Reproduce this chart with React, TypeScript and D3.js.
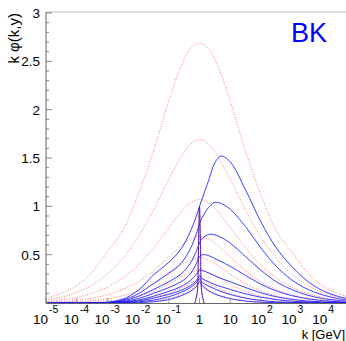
import React from 'react';
import * as d3 from 'd3';

const logK = [-5, -4.5, -4, -3.5, -3, -2.5, -2, -1.5, -1, -0.6, -0.3, -0.1, 0, 0.1, 0.3, 0.5, 0.7, 1, 1.5, 2, 2.5, 3, 3.5, 4, 4.5, 5];

const red8 = [0.05, 0.10, 0.18, 0.32, 0.53, 0.75, 1.12, 1.57, 2.09, 2.45, 2.63, 2.68, 2.69, 2.68, 2.63, 2.52, 2.37, 2.09, 1.57, 1.12, 0.75, 0.53, 0.32, 0.18, 0.10, 0.05];
const red7 = [0.032, 0.06, 0.11, 0.185, 0.30, 0.46, 0.68, 0.96, 1.28, 1.515, 1.64, 1.685, 1.69, 1.685, 1.64, 1.565, 1.46, 1.28, 0.96, 0.68, 0.46, 0.30, 0.185, 0.11, 0.06, 0.032];
const red6 = [0.017, 0.032, 0.058, 0.1, 0.165, 0.26, 0.39, 0.57, 0.78, 0.945, 1.035, 1.065, 1.07, 1.065, 1.035, 0.98, 0.905, 0.78, 0.57, 0.39, 0.26, 0.165, 0.1, 0.058, 0.032, 0.017];
const red5 = [0.008, 0.015, 0.028, 0.05, 0.085, 0.14, 0.22, 0.335, 0.475, 0.595, 0.66, 0.686, 0.69, 0.686, 0.66, 0.62, 0.565, 0.475, 0.335, 0.22, 0.14, 0.085, 0.05, 0.028, 0.015, 0.008];
const red4 = [0.003, 0.007, 0.013, 0.024, 0.043, 0.075, 0.125, 0.2, 0.3, 0.39, 0.445, 0.465, 0.47, 0.465, 0.445, 0.41, 0.365, 0.3, 0.2, 0.125, 0.075, 0.043, 0.024, 0.013, 0.007, 0.003];
const red3 = [0.001, 0.002, 0.005, 0.011, 0.021, 0.039, 0.07, 0.12, 0.195, 0.268, 0.315, 0.335, 0.34, 0.335, 0.315, 0.285, 0.25, 0.195, 0.12, 0.07, 0.039, 0.021, 0.011, 0.005, 0.002, 0.001];
const red2 = [0, 0, 0.001, 0.003, 0.006, 0.013, 0.028, 0.055, 0.1, 0.155, 0.205, 0.245, 0.27, 0.245, 0.205, 0.17, 0.14, 0.1, 0.055, 0.028, 0.013, 0.006, 0.003, 0.001, 0, 0];
const red1 = [0, 0, 0, 0, 0.001, 0.004, 0.009, 0.022, 0.048, 0.087, 0.135, 0.185, 0.23, 0.185, 0.135, 0.1, 0.075, 0.048, 0.022, 0.009, 0.004, 0.001, 0, 0, 0, 0];

const blue8 = [0, 0, 0.001, 0.003, 0.008, 0.04, 0.13, 0.29, 0.42, 0.56, 0.74, 0.9, 1.0, 1.09, 1.27, 1.45, 1.52, 1.46, 1.17, 0.84, 0.57, 0.38, 0.23, 0.13, 0.07, 0.035];
const blue7 = [0, 0, 0, 0.002, 0.006, 0.03, 0.095, 0.2, 0.31, 0.41, 0.56, 0.72, 0.82, 0.89, 0.99, 1.04, 1.03, 0.97, 0.79, 0.57, 0.38, 0.24, 0.145, 0.085, 0.046, 0.025];
const blue6 = [0, 0, 0, 0.001, 0.004, 0.022, 0.068, 0.14, 0.22, 0.3, 0.41, 0.54, 0.62, 0.67, 0.71, 0.705, 0.68, 0.62, 0.48, 0.34, 0.22, 0.14, 0.083, 0.047, 0.026, 0.014];
const blue5 = [0, 0, 0, 0, 0.003, 0.015, 0.046, 0.1, 0.16, 0.22, 0.3, 0.41, 0.48, 0.5, 0.49, 0.46, 0.43, 0.38, 0.285, 0.195, 0.125, 0.077, 0.045, 0.025, 0.013, 0.007];
const blue4 = [0, 0, 0, 0, 0.002, 0.01, 0.03, 0.07, 0.12, 0.17, 0.23, 0.3, 0.34, 0.335, 0.31, 0.28, 0.255, 0.22, 0.16, 0.105, 0.065, 0.038, 0.021, 0.011, 0.006, 0.003];
const blue3 = [0, 0, 0, 0, 0, 0.006, 0.02, 0.05, 0.09, 0.13, 0.18, 0.23, 0.28, 0.25, 0.22, 0.19, 0.17, 0.14, 0.095, 0.06, 0.035, 0.019, 0.01, 0.005, 0.002, 0.001];
const blue2 = [0, 0, 0, 0, 0, 0.003, 0.012, 0.03, 0.065, 0.11, 0.16, 0.21, 0.25, 0.21, 0.175, 0.145, 0.12, 0.088, 0.05, 0.026, 0.012, 0.006, 0.003, 0.001, 0, 0];
const blue1 = [0, 0, 0, 0, 0, 0, 0.004, 0.013, 0.035, 0.075, 0.12, 0.17, 0.22, 0.175, 0.125, 0.093, 0.07, 0.045, 0.02, 0.008, 0.003, 0.001, 0, 0, 0, 0];

const spikeLogK = [-0.15, -0.07, -0.035, 0, 0.035, 0.07, 0.15];
const spikeValues = [0, 0.12, 0.55, 1.0, 0.55, 0.12, 0];

const redSeries = [red1, red2, red3, red4, red5, red6, red7, red8];
const blueSeries = [blue1, blue2, blue3, blue4, blue5, blue6, blue7, blue8];

const yMajorTicks = [0.5, 1, 1.5, 2, 2.5, 3];
const yTickLabels = ['0.5', '1', '1.5', '2', '2.5', '3'];
const xDecades = [-5, -4, -3, -2, -1, 0, 1, 2, 3, 4];

const W = 346;
const H = 341;
const left = 46;
const right = 353;
const top = 13;
const bottom = 303;

export default function App() {
  const x = d3.scaleLog().domain([1e-5, 1e5]).range([left, right]);
  const y = d3.scaleLinear().domain([0, 3]).range([bottom, top]);

  const mkLine = (ks: number[]) =>
    d3
      .line<number>()
      .x((_, i) => x(Math.pow(10, ks[i])))
      .y((v) => y(v))
      .curve(d3.curveCatmullRom.alpha(0.5));

  const gridLine = mkLine(logK);
  const spikeLine = mkLine(spikeLogK);

  const minorY = d3.range(0, 31).map((i) => i / 10);

  const font = "'Liberation Sans', Arial, Helvetica, sans-serif";
  const labelBase = 323.5;

  return (
    <svg
      width={W}
      height={H}
      style={{ position: 'absolute', left: 0, top: 0, background: '#fff' }}
      fontFamily={font}
    >
      <defs>
        <clipPath id="plot">
          <rect x={left} y={top} width={right - left} height={bottom - top + 0.5} />
        </clipPath>
      </defs>
      <rect x={0} y={0} width={W} height={H} fill="#fff" />

      <g clipPath="url(#plot)">
        {redSeries.map((s, i) => (
          <path
            key={'r' + i}
            d={gridLine(s) || ''}
            fill="none"
            stroke="#ff3030"
            strokeOpacity={0.75}
            strokeWidth={0.9}
            strokeDasharray="1 1.6"
          />
        ))}
        <path
          d={spikeLine(spikeValues) || ''}
          fill="none"
          stroke="#ff3030"
          strokeWidth={0.9}
          strokeDasharray="1 1.6"
        />
        {blueSeries.map((s, i) => (
          <path
            key={'b' + i}
            d={gridLine(s) || ''}
            fill="none"
            stroke="#1a1aff"
            strokeOpacity={0.85}
            strokeWidth={1}
          />
        ))}
        <path d={spikeLine(spikeValues) || ''} fill="none" stroke="#5020c0" strokeWidth={1} />
      </g>

      {/* frame */}
      <line x1={left} x2={right} y1={top - 1} y2={top - 1} stroke="#bbbbbb" strokeWidth={1} />
      <line x1={left} x2={left} y1={top - 1} y2={bottom} stroke="#666" strokeWidth={1} />
      <line x1={left} x2={right} y1={bottom + 0.5} y2={bottom + 0.5} stroke="#666" strokeWidth={1} />

      {/* y ticks */}
      {minorY.map((v, i) => {
        const major = i % 5 === 0;
        return (
          <line
            key={'yt' + i}
            x1={left}
            x2={left + (major ? 6 : 3)}
            y1={y(v)}
            y2={y(v)}
            stroke="#666"
            strokeWidth={0.8}
          />
        );
      })}
      {yMajorTicks.map((v, i) => (
        <text
          key={'yl' + i}
          x={40}
          y={y(v)}
          dy="0.36em"
          textAnchor="end"
          fontSize={13.5}
          fill="#000"
        >
          {yTickLabels[i]}
        </text>
      ))}

      {/* x ticks */}
      {xDecades.map((e) => (
        <line
          key={'xt' + e}
          x1={x(Math.pow(10, e))}
          x2={x(Math.pow(10, e))}
          y1={bottom}
          y2={bottom - 5}
          stroke="#888"
          strokeWidth={0.8}
        />
      ))}
      {xDecades.map((e) => {
        const cx = x(Math.pow(10, e));
        if (e === 0) {
          return (
            <text key={'xl' + e} x={cx} y={labelBase} textAnchor="middle" fontSize={13.5}>
              1
            </text>
          );
        }
        if (e === 1) {
          return (
            <text key={'xl' + e} x={cx} y={labelBase} textAnchor="middle" fontSize={13.5}>
              10
            </text>
          );
        }
        const sup = String(e);
        const supW = sup.length === 2 ? 12 : 6;
        const mainW = 15;
        const total = mainW + 1 + supW;
        const x0 = cx - total / 2 + 1;
        return (
          <g key={'xl' + e}>
            <text x={x0} y={labelBase} fontSize={13.5}>
              10
            </text>
            <text x={x0 + mainW + 1} y={labelBase - 10.5} fontSize={10.5}>
              {sup}
            </text>
          </g>
        );
      })}

      {/* axis titles */}
      <text x={345} y={338.5} textAnchor="end" fontSize={13}>
        k [GeV]
      </text>
      <text transform="translate(19,13) rotate(-90)" textAnchor="end" fontSize={15}>
        k φ(k,y)
      </text>

      <text x={291} y={42} fontSize={27} fill="#0000ff">
        BK
      </text>
    </svg>
  );
}
